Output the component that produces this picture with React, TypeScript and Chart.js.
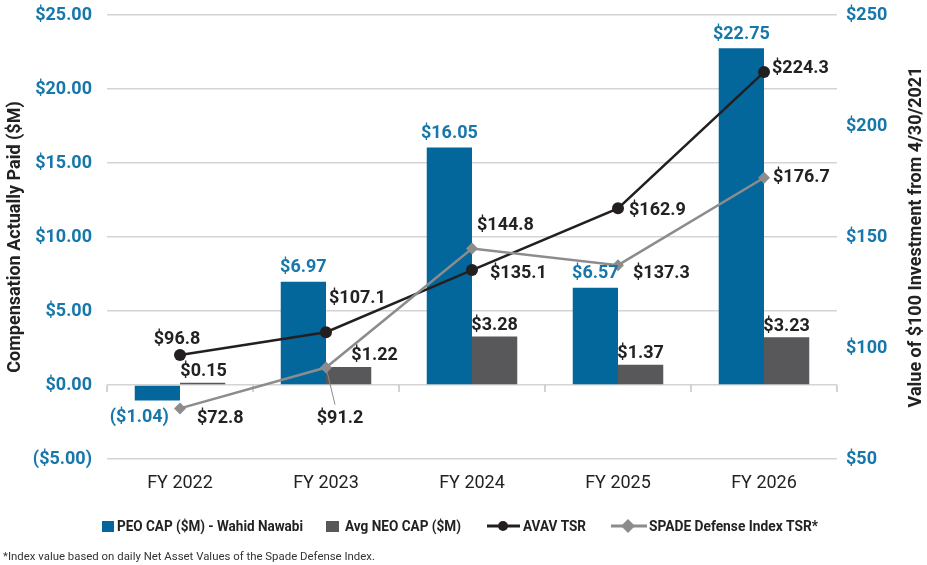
import { useEffect, useRef } from "react";
import { Chart, registerables } from "chart.js";

Chart.register(...registerables);

// ---------- data ----------
const categories = ["FY 2022", "FY 2023", "FY 2024", "FY 2025", "FY 2026"];
const peoCap = [-1.04, 6.97, 16.05, 6.57, 22.75];
const neoCap = [0.15, 1.22, 3.28, 1.37, 3.23];
const avavTsr = [96.8, 107.1, 135.1, 162.9, 224.3];
const spadeTsr = [72.8, 91.2, 144.8, 137.3, 176.7];
const leftAxis = { min: -5, max: 25, step: 5 };
const rightAxis = { min: 50, max: 250, step: 50 };
const legendLabels = ["PEO CAP ($M) - Wahid Nawabi", "Avg NEO CAP ($M)", "AVAV TSR", "SPADE Defense Index TSR*"];
const leftTitle = "Compensation Actually Paid ($M)";
const rightTitle = "Value of $100 Investment from 4/30/2021";
const footnote = "*Index value based on daily Net Asset Values of the Spade Defense Index.";

// ---------- styles ----------
const BLUE = "#03679c";
const TICK_BLUE = "#1777aa";
const GRAY_BAR = "#58585a";
const BLACK = "#231f20";
const GRAY_LINE = "#8c8c8c";
const TEXT = "#222222";
const FONT = "Roboto, 'Noto Sans', sans-serif";

type Off = { dx: number; dy: number; align: CanvasTextAlign };
const peoOff: Off[] = [
  { dx: -18, dy: 17, align: "center" },
  { dx: 0, dy: -14, align: "center" },
  { dx: 0, dy: -14, align: "center" },
  { dx: 0, dy: -14, align: "center" },
  { dx: 0, dy: -14, align: "center" },
];
const neoOff: Off[] = [
  { dx: 1, dy: -11, align: "center" },
  { dx: 26, dy: -11, align: "center" },
  { dx: 0, dy: -11, align: "center" },
  { dx: 0, dy: -11, align: "center" },
  { dx: 0, dy: -11, align: "center" },
];
const avavOff: Off[] = [
  { dx: -3, dy: -16, align: "center" },
  { dx: 3, dy: -34, align: "left" },
  { dx: 18, dy: 3, align: "left" },
  { dx: 11, dy: 2, align: "left" },
  { dx: 8, dy: -4, align: "left" },
];
const spadeOff: Off[] = [
  { dx: 17, dy: 10, align: "left" },
  { dx: 14, dy: 51, align: "center" },
  { dx: 5, dy: -23, align: "left" },
  { dx: 15, dy: 8, align: "left" },
  { dx: 9, dy: 0, align: "left" },
];

const money2 = (v: number) => (v < 0 ? `($${Math.abs(v).toFixed(2)})` : `$${v.toFixed(2)}`);
const money1 = (v: number) => `$${v.toFixed(1)}`;

function fillFit(ctx: CanvasRenderingContext2D, text: string, x: number, y: number, width: number) {
  const w = ctx.measureText(text).width;
  ctx.save();
  ctx.translate(x, y);
  ctx.scale(width / w, 1);
  ctx.textAlign = "left";
  ctx.fillText(text, 0, 0);
  ctx.restore();
}

const customPlugin = {
  id: "custom",
  beforeDatasetsDraw(chart: any) {
    const { ctx, chartArea, scales } = chart;
    const y0 = scales.y.getPixelForValue(0);
    ctx.save();
    ctx.strokeStyle = "#c4c4c4";
    ctx.lineWidth = 1.5;
    const n = categories.length;
    for (let i = 0; i <= n; i++) {
      const x = chartArea.left + ((chartArea.right - chartArea.left) * i) / n;
      ctx.beginPath();
      ctx.moveTo(x, y0);
      ctx.lineTo(x, y0 + 7);
      ctx.stroke();
    }
    ctx.restore();
  },
  afterDatasetsDraw(chart: any) {
    const { ctx } = chart;
    ctx.save();
    ctx.font = `bold 18px ${FONT}`;
    ctx.textBaseline = "middle";
    const draw = (dsIndex: number, values: number[], offs: Off[], color: string, fmt: (v: number) => string) => {
      const meta = chart.getDatasetMeta(dsIndex);
      meta.data.forEach((el: any, i: number) => {
        const o = offs[i];
        ctx.fillStyle = color;
        ctx.textAlign = o.align;
        ctx.fillText(fmt(values[i]), el.x + o.dx, el.y + o.dy);
      });
    };
    // leader line for SPADE FY2023
    const sp = chart.getDatasetMeta(3).data[1];
    ctx.strokeStyle = "#8a8a8a";
    ctx.lineWidth = 1;
    ctx.beginPath();
    ctx.moveTo(sp.x + 1, sp.y + 4);
    ctx.lineTo(sp.x + 9, sp.y + 37);
    ctx.stroke();

    draw(0, peoCap, peoOff, TICK_BLUE, money2);
    draw(1, neoCap, neoOff, TEXT, money2);
    draw(2, avavTsr, avavOff, TEXT, money1);
    draw(3, spadeTsr, spadeOff, TEXT, money1);
    ctx.restore();
  },
  afterDraw(chart: any) {
    const { ctx, chartArea } = chart;
    const cy = (chartArea.top + chartArea.bottom) / 2;
    ctx.save();
    // axis titles
    ctx.font = `bold 18px ${FONT}`;
    ctx.fillStyle = TEXT;
    ctx.textAlign = "center";
    ctx.textBaseline = "middle";
    ctx.save();
    ctx.translate(15, cy);
    ctx.rotate(-Math.PI / 2);
    ctx.fillText(leftTitle, 0, 0);
    ctx.restore();
    ctx.save();
    ctx.translate(916, cy);
    ctx.rotate(-Math.PI / 2);
    ctx.fillText(rightTitle, 0, 0);
    ctx.restore();

    // legend
    const ly = 526;
    ctx.textBaseline = "alphabetic";
    ctx.font = `bold 14px ${FONT}`;
    ctx.fillStyle = BLUE;
    ctx.fillRect(102, 521, 12, 11);
    ctx.fillStyle = TEXT;
    fillFit(ctx, legendLabels[0], 117, 531, 186);
    ctx.fillStyle = GRAY_BAR;
    ctx.fillRect(326, 521, 13, 11);
    ctx.fillStyle = TEXT;
    fillFit(ctx, legendLabels[1], 345, 531, 116);
    // AVAV
    ctx.strokeStyle = BLACK;
    ctx.lineWidth = 3;
    ctx.beginPath();
    ctx.moveTo(487, ly);
    ctx.lineTo(520, ly);
    ctx.stroke();
    ctx.fillStyle = BLACK;
    ctx.beginPath();
    ctx.arc(503, ly, 5, 0, Math.PI * 2);
    ctx.fill();
    ctx.fillStyle = TEXT;
    fillFit(ctx, legendLabels[2], 523, 531, 63);
    // SPADE
    ctx.strokeStyle = GRAY_LINE;
    ctx.beginPath();
    ctx.moveTo(611, ly);
    ctx.lineTo(647, ly);
    ctx.stroke();
    ctx.fillStyle = GRAY_LINE;
    ctx.beginPath();
    ctx.moveTo(628, ly - 7);
    ctx.lineTo(635, ly);
    ctx.lineTo(628, ly + 7);
    ctx.lineTo(621, ly);
    ctx.closePath();
    ctx.fill();
    ctx.fillStyle = TEXT;
    fillFit(ctx, legendLabels[3], 649, 531, 169);

    // footnote
    ctx.font = `11px ${FONT}`;
    ctx.fillStyle = "#333333";
    fillFit(ctx, footnote, 3, 560, 372);
    ctx.restore();
  },
};

export default function App() {
  const canvasRef = useRef<HTMLCanvasElement | null>(null);

  useEffect(() => {
    document.body.style.margin = "0";
    const canvas = canvasRef.current;
    if (!canvas) return;
    const chart = new Chart(canvas, {
      type: "bar",
      data: {
        labels: categories,
        datasets: [
          {
            type: "bar",
            label: legendLabels[0],
            data: peoCap,
            backgroundColor: BLUE,
            yAxisID: "y",
            order: 2,
            categoryPercentage: 0.62,
            barPercentage: 1,
          },
          {
            type: "bar",
            label: legendLabels[1],
            data: neoCap,
            backgroundColor: GRAY_BAR,
            yAxisID: "y",
            order: 3,
            categoryPercentage: 0.62,
            barPercentage: 1,
          },
          {
            type: "line",
            label: legendLabels[2],
            data: avavTsr,
            borderColor: BLACK,
            backgroundColor: BLACK,
            borderWidth: 2.5,
            pointRadius: 6,
            pointStyle: "circle",
            pointBorderWidth: 0,
            yAxisID: "y1",
            order: 1,
            tension: 0,
          },
          {
            type: "line",
            label: legendLabels[3],
            data: spadeTsr,
            borderColor: GRAY_LINE,
            backgroundColor: GRAY_LINE,
            borderWidth: 2.5,
            pointRadius: 6,
            pointStyle: "rectRot",
            pointBorderWidth: 0,
            yAxisID: "y1",
            order: 0,
            tension: 0,
          },
        ] as any,
      },
      options: {
        animation: false,
        responsive: true,
        maintainAspectRatio: false,
        events: [],
        layout: { padding: { top: 15, left: 0, right: 0, bottom: 0 } },
        plugins: { legend: { display: false }, tooltip: { enabled: false } },
        scales: {
          x: {
            offset: true,
            grid: { display: false, drawTicks: false },
            border: { display: false },
            ticks: { color: TEXT, font: { family: FONT, size: 18 }, padding: 14 },
            afterFit: (s: any) => {
              s.height = 106;
              s.paddingLeft = 0;
              s.paddingRight = 0;
            },
          },
          y: {
            position: "left",
            min: leftAxis.min,
            max: leftAxis.max,
            grid: { color: "#d4d4d4", lineWidth: 1.5, drawTicks: false },
            border: { display: false },
            ticks: {
              stepSize: leftAxis.step,
              color: TICK_BLUE,
              font: { family: FONT, size: 18, weight: "bold" },
              padding: 15,
              callback: (v: any) => money2(Number(v)),
            },
            afterFit: (s: any) => {
              s.width = 107;
              s.paddingTop = 0;
              s.paddingBottom = 0;
            },
          },
          y1: {
            position: "right",
            min: rightAxis.min,
            max: rightAxis.max,
            grid: { display: false, drawTicks: false },
            border: { display: false },
            ticks: {
              stepSize: rightAxis.step,
              color: TICK_BLUE,
              font: { family: FONT, size: 18, weight: "bold" },
              padding: 9,
              callback: (v: any) => `$${v}`,
            },
            afterFit: (s: any) => {
              s.width = 90;
              s.paddingTop = 0;
              s.paddingBottom = 0;
            },
          },
        },
      } as any,
      plugins: [customPlugin],
    });
    return () => chart.destroy();
  }, []);

  return (
    <div style={{ width: 927, height: 565, position: "relative" }}>
      <canvas ref={canvasRef} />
    </div>
  );
}
